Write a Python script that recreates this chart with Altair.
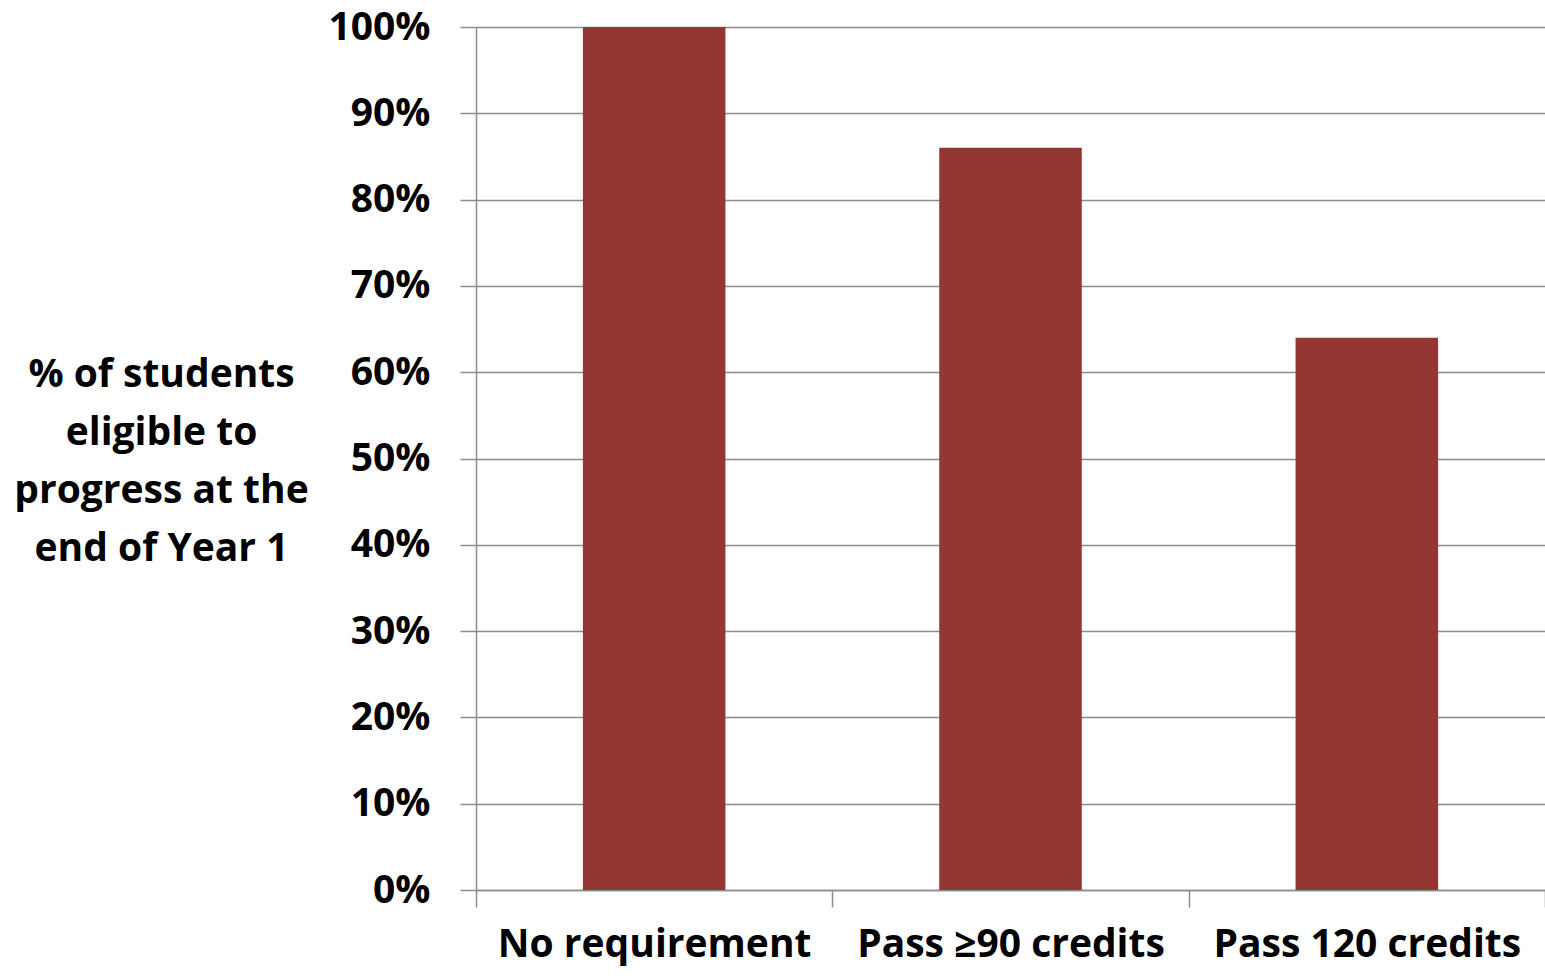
import altair as alt
import pandas as pd

categories = ["No requirement", "Pass \u226590 credits", "Pass 120 credits"]
values = [1.00, 0.86, 0.64]
y_ticks = [0.0, 0.1, 0.2, 0.3, 0.4, 0.5, 0.6, 0.7, 0.8, 0.9, 1.0]
y_title = ["% of students", "eligible to", "progress at the", "end of Year 1"]

df = pd.DataFrame({"category": categories, "value": values})

FONT = "Open Sans"
GRID = "#8c8c8c"
FS = 39

chart = alt.Chart(df).mark_bar(color="#943634", width=alt.RelativeBandSize(0.4)).encode(
    x=alt.X(
        "category:N",
        sort=categories,
        scale=alt.Scale(paddingInner=0, paddingOuter=0),
        axis=alt.Axis(
            title=None,
            labelAngle=0,
            labelFont=FONT,
            labelFontWeight="bold",
            labelFontSize=FS,
            labelColor="black",
            labelPadding=18,
            labelLimit=0,
            tickBand="extent",
            tickSize=17,
            tickColor=GRID,
            tickWidth=1.5,
            domainColor=GRID,
            domainWidth=1.5,
            labelBaseline="top",
        ),
    ),
    y=alt.Y(
        "value:Q",
        scale=alt.Scale(domain=[0, 1], nice=False),
        axis=alt.Axis(
            values=y_ticks,
            format=".0%",
            title=y_title,
            titleAngle=0,
            titleAlign="center",
            titleBaseline="middle",
            titleX=-315,
            titleY=347,
            titleFont=FONT,
            titleFontWeight="bold",
            titleFontSize=FS,
            titleColor="black",
            titleLineHeight=58,
            labelFont=FONT,
            labelFontWeight="bold",
            labelFontSize=FS,
            labelColor="black",
            labelPadding=30,
            tickSize=16,
            tickColor=GRID,
            tickWidth=1.5,
            domainColor=GRID,
            domainWidth=1.5,
            grid=True,
            gridColor=GRID,
            gridWidth=1.5,
        ),
    ),
).properties(
    width=1069,
    height=863,
    padding={"left": 476, "top": 27, "right": 0, "bottom": 86},
    autosize=alt.AutoSizeParams(type="none"),
).configure_view(stroke=None).configure(background="white")

chart.save("out.html", embed_options={"renderer": "svg", "actions": False})
